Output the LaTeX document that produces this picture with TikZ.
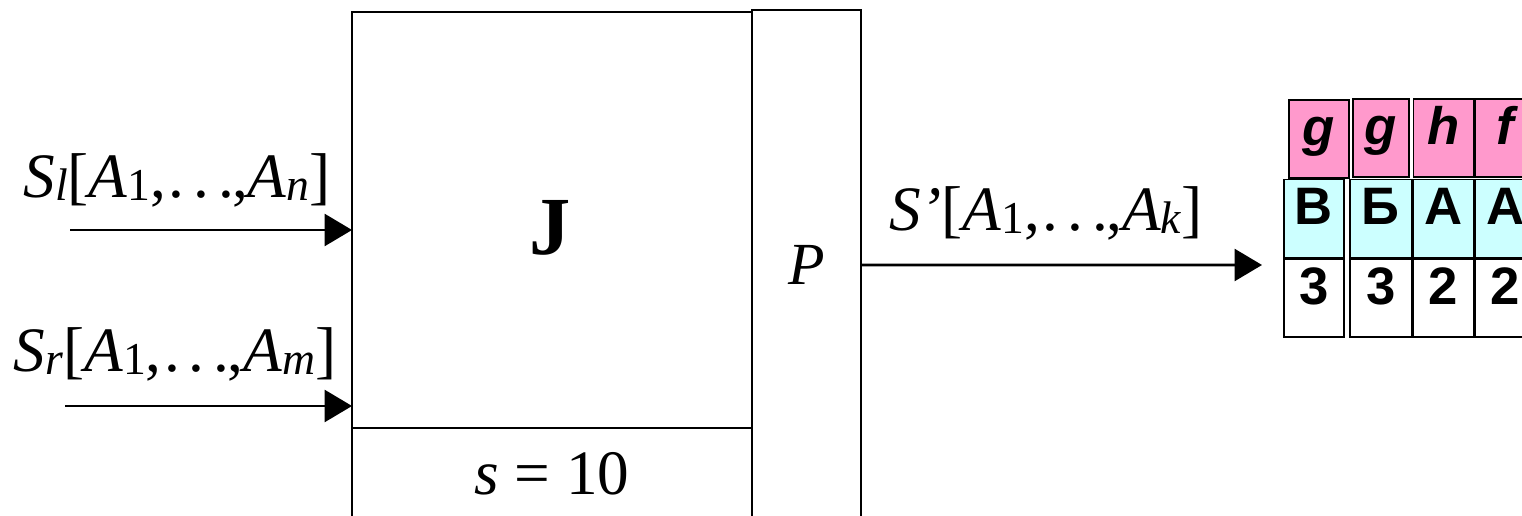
\documentclass[tikz,border=0pt]{standalone}
\usepackage{fontspec}
\setmainfont{Liberation Serif}
\newfontfamily\tabfont{Liberation Sans}
\usetikzlibrary{arrows.meta,positioning}
\definecolor{headpink}{RGB}{255,153,204}
\definecolor{keycyan}{RGB}{204,255,255}
\newcommand{\lsub}[1]{\raisebox{-0.05em}{\fontsize{26}{26}\selectfont #1}}
\newcommand{\wdots}{,\kern0.04em.\kern0.14em.\kern0.14em.\kern-0.03em,}

\begin{document}
\begin{tikzpicture}[
  x=0.02cm,y=-0.02cm,
  box/.style={draw,line width=1.6pt,inner sep=0pt,outer sep=0pt},
  flow/.style={-{Triangle[length=0.55cm,width=0.64cm]},line width=1.6pt},
  lbl/.style={inner sep=0pt,font=\fontsize{36}{36}\selectfont},
  cell/.style={draw,line width=1pt,minimum width=1.2cm,minimum height=1.56cm,inner sep=0pt,text height=0.72em,text depth=0pt,font=\tabfont\bfseries\fontsize{30}{30}\selectfont},
  head/.style={cell,fill=headpink,font=\tabfont\bfseries\itshape\fontsize{30}{30}\selectfont},
  key/.style={cell,fill=keycyan}
]
\useasboundingbox (0,0) rectangle (1522,516);
\node[box,minimum width=8cm,minimum height=8.32cm] (jbox) at (552,220) {};
\node[inner sep=0pt,font=\fontsize{47}{47}\selectfont\bfseries] (jname) at (550,228) {J};
\node[box,minimum width=8cm,minimum height=1.84cm,anchor=north] (sbox) at (jbox.south) {\fontsize{36}{36}\selectfont\textit{s} = 10};
\node[box,minimum width=2.18cm,minimum height=10.2cm,anchor=north west] (pbox) at (752,10) {\fontsize{34}{34}\selectfont\textit{P}};

\coordinate (lin) at (70,230);
\coordinate (rin) at (65,406);
\draw[flow] (lin) -- (lin -| jbox.west);
\draw[flow] (rin) -- (rin -| jbox.west);
\node[lbl] (lname) at (177,180) {\textit{S}\lsub{\textit{l}}[\textit{A}\lsub{1}\wdots\textit{A}\lsub{\textit{n}}]};
\node[lbl] (rname) at (175,354) {\textit{S}\lsub{\textit{r}}[\textit{A}\lsub{1}\wdots\textit{A}\lsub{\textit{m}}]};

\coordinate (outend) at (1262,265);
\draw[flow] (pbox.east) -- (outend);
\node[lbl] (oname) at (1046,213) {\textit{S’}[\textit{A}\lsub{1}\wdots\textit{A}\lsub{\textit{k}}]};

\node[key] (k1) at (1314,218.5) {В};
\node[key,minimum width=1.24cm,right=0.08cm of k1] (k2) {Б};
\node[key,right=0pt of k2] (k3) {А};
\node[key,right=0pt of k3] (k4) {А};
\node[cell,below=0pt of k1] (v1) {3};
\node[cell,minimum width=1.24cm,below=0pt of k2] (v2) {3};
\node[cell,below=0pt of k3] (v3) {2};
\node[cell,below=0pt of k4] (v4) {2};
\node[head,above=0pt of k1,xshift=0.1cm] (h1) {g};
\node[head,minimum width=1.12cm,above=0.02cm of k2] (h2) {g};
\node[head,above=0.02cm of k3] (h3) {h};
\node[head,above=0.02cm of k4] (h4) {f};
\end{tikzpicture}
\end{document}
